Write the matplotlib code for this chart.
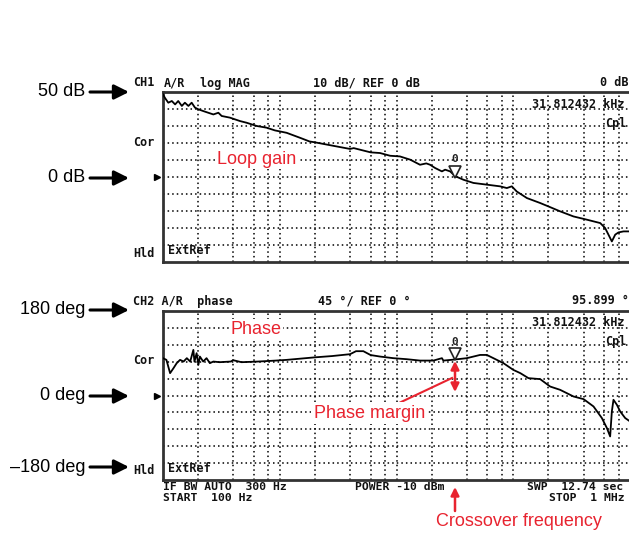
import matplotlib
matplotlib.use('Agg')
import matplotlib.pyplot as plt
import matplotlib.transforms as mtrans
import numpy as np

# loop gain trace (Hz, dB)
mag_freq = [100, 104, 111, 119, 127, 135, 145, 154, 165, 176, 188, 201, 221, 244, 270,
            298, 318, 375, 457, 521, 636, 772, 910, 1145, 1500, 1800, 2000, 2800, 4000,
            4300, 6000, 7230, 8810, 10700, 13100, 15900, 18000, 19400, 21400, 24500,
            26100, 28800, 31800, 37400, 45600, 59400, 77200, 88100, 97200, 107000,
            131000, 170000, 200000, 252000, 328000, 427000, 556000, 612000, 676000,
            699000, 747000, 797000, 880000, 1000000]
mag_db = [48.6, 46.5, 43.7, 44.7, 42.7, 44.7, 41.8, 43.7, 41.8, 43.7, 40.8, 39.8, 38.8,
          37.8, 36.8, 37.8, 35.9, 34.9, 32.9, 31.9, 30.0, 29.0, 27.4, 26.0, 23.0, 20.9,
          20.4, 18.5, 16.5, 17.0, 14.5, 14.1, 12.5, 12.1, 10.2, 7.2, 8.0, 7.2, 5.3, 3.3,
          4.3, 3.3, 0.5, -1.6, -3.5, -4.5, -5.5, -6.5, -5.5, -8.5, -12.4, -15.3, -17.3,
          -20.2, -23.2, -25.1, -27.1, -30.0, -35.9, -37.9, -33.9, -32.6, -32.0, -32.0]

# phase trace (Hz, deg)
ph_freq = [100, 107, 115, 123, 131, 140, 150, 160, 171, 182, 186, 194, 201, 207, 221,
           236, 252, 270, 305, 380, 399, 470, 650, 925, 1150, 2000, 2800, 4000, 4500,
           5200, 6000, 7230, 9400, 12200, 15900, 20700, 24500, 25200, 31800, 40000,
           52000, 59400, 67600, 82400, 100000, 115000, 135000, 170000, 207000, 252000,
           328000, 400000, 487000, 574000, 634000, 676000, 699000, 722000, 772000,
           824000, 909000, 1000000]
ph_deg = [99.4, 94.9, 59.5, 72.8, 86.1, 94.9, 90.4, 99.4, 90.4, 121.5, 90.0, 112.7, 81.6,
          103.7, 90.4, 99.4, 86.1, 90.4, 88.7, 90.4, 94.0, 88.7, 90.4, 93.0, 94.9, 101.6,
          105.0, 110.0, 118.0, 118.0, 107.7, 103.7, 99.4, 96.7, 93.0, 93.0, 99.4, 93.0,
          95.9, 99.4, 108.0, 108.0, 99.4, 86.1, 68.3, 59.5, 46.2, 43.6, 23.9, 15.1, -2.6,
          -9.6, -29.2, -60.0, -86.7, -109.0, -42.5, -11.4, -24.7, -42.5, -60.0, -69.0]

marker_f = 31812.432
marker_mag = 0.0
marker_ph = 95.899

W, H = 629, 533
RED = '#e8232f'
MONO = dict(family='DejaVu Sans Mono', weight='bold', size=8.5, color='#111111')
LABEL = ['Liberation Sans', 'DejaVu Sans']
LSIZE = 13

fig = plt.figure(figsize=(W / 100, H / 100), dpi=100)


def box(left, top, right, bottom):
    return [left / W, 1 - bottom / H, (right - left) / W, (bottom - top) / H]


def ftext(x, y, s, **kw):
    # x, y in image pixels (y from top)
    fig.text(x / W, 1 - y / H, s, **kw)


def setup(ax, lo, hi, step):
    ax.set_xscale('log')
    ax.set_xlim(100, 1e6)
    ax.set_ylim(lo, hi)
    ax.set_xticks([])
    ax.set_yticks([])
    ax.minorticks_off()
    for v in np.arange(lo + step, hi, step):
        ax.axhline(v, color='black', lw=1.1, ls=(0, (1, 2)), zorder=1)
    for dec in [100, 1000, 10000, 100000]:
        for m in [1, 2, 4, 6, 8]:
            if dec * m > 100:
                ax.axvline(dec * m, color='black', lw=1.1, ls=(0, (1, 2)), zorder=1)
    for sp in ax.spines.values():
        sp.set_linewidth(2.0)
        sp.set_color('#333333')


ax1 = fig.add_axes(box(163, 92, 630, 262))
ax2 = fig.add_axes(box(163, 311, 630, 480))
setup(ax1, -50, 50, 10)
setup(ax2, -225, 225, 45)

ax1.plot(mag_freq, mag_db, color='black', lw=1.3, zorder=3)
ax2.plot(ph_freq, ph_deg, color='black', lw=1.3, zorder=3)

# markers
for ax, val in [(ax1, marker_mag), (ax2, marker_ph)]:
    tri = mtrans.offset_copy(ax.transData, fig=fig, y=5, units='dots')
    ax.plot([marker_f], [val], marker='v', ms=9, mfc='white', mec='#222222', mew=1.2,
            transform=tri, zorder=4)
    ax.annotate('0', xy=(marker_f, val), xytext=(0, 9), textcoords='offset points',
                ha='center', va='bottom', family='DejaVu Sans Mono', weight='bold',
                fontsize=8, color='#222222', zorder=4)
    ax.plot([-0.012], [0], marker='>', ms=5, color='black',
            transform=ax.get_yaxis_transform(), clip_on=False)
    ax.text(0.01, 0.03, 'ExtRef', transform=ax.transAxes, ha='left', va='bottom', **MONO)

# instrument annotations
ftext(133, 83, 'CH1', va='center', **MONO)
ftext(164, 83, 'A/R', va='center', **MONO)
ftext(200, 83, 'log MAG', va='center', **MONO)
ftext(313, 83, '10 dB/ REF 0 dB', va='center', **MONO)
ftext(600, 83, '0 dB', va='center', **MONO)
ftext(532, 105, '31.812432 kHz', va='center', **MONO)
ftext(605, 123, 'Cpl', va='center', **MONO)
ftext(133, 143, 'Cor', va='center', **MONO)
ftext(133, 253, 'Hld', va='center', **MONO)

ftext(133, 301, 'CH2 A/R  phase', va='center', **MONO)
ftext(318, 301, '45 \u00b0/ REF 0 \u00b0', va='center', **MONO)
ftext(572, 301, '95.899 \u00b0', va='center', **MONO)
ftext(532, 322, '31.812432 kHz', va='center', **MONO)
ftext(605, 341, 'Cpl', va='center', **MONO)
ftext(133, 360, 'Cor', va='center', **MONO)
ftext(133, 471, 'Hld', va='center', **MONO)

FOOT = dict(MONO, size=8.2)
ftext(163, 487, 'IF BW AUTO  300 Hz', va='center', **FOOT)
ftext(163, 498, 'START  100 Hz', va='center', **FOOT)
ftext(355, 487, 'POWER -10 dBm', va='center', **FOOT)
ftext(527, 487, 'SWP  12.74 sec', va='center', **FOOT)
ftext(549, 498, 'STOP  1 MHz', va='center', **FOOT)

# left-hand callouts
arrow = dict(arrowstyle='-|>', color='black', lw=2.2, mutation_scale=22, shrinkA=0, shrinkB=0)
for y, s in [(92, '50 dB'), (178, '0 dB'), (310, '180 deg'), (396, '0 deg'), (467, '\u2013180 deg')]:
    fig.text(85 / W, 1 - y / H, s, ha='right', va='center', family=LABEL, fontsize=LSIZE)
    fig.patches.append(matplotlib.patches.FancyArrowPatch(
        (90 / W, 1 - y / H), (129 / W, 1 - y / H), transform=fig.transFigure, **arrow))

# red labels
ftext(217, 159, 'Loop gain', ha='left', va='center', family=LABEL, fontsize=LSIZE, color=RED,
      bbox=dict(facecolor='white', edgecolor='none', pad=1))
ftext(231, 329, 'Phase', ha='left', va='center', family=LABEL, fontsize=LSIZE, color=RED,
      bbox=dict(facecolor='white', edgecolor='none', pad=1))
ftext(314, 413, 'Phase margin', ha='left', va='center', family=LABEL, fontsize=LSIZE, color=RED,
      bbox=dict(facecolor='white', edgecolor='none', pad=2), zorder=5)
ftext(436, 522, 'Crossover frequency', ha='left', va='center', family=LABEL, fontsize=LSIZE,
      color=RED)

red_dbl = dict(arrowstyle='<|-|>', color=RED, lw=1.8, mutation_scale=12, shrinkA=0, shrinkB=0)
fig.patches.append(matplotlib.patches.FancyArrowPatch(
    (455 / W, 1 - 361 / H), (455 / W, 1 - 392 / H), transform=fig.transFigure, **red_dbl))
fig.lines.append(matplotlib.lines.Line2D([399 / W, 452 / W], [1 - 403 / H, 1 - 378 / H],
                                         transform=fig.transFigure, color=RED, lw=1.5))
red_up = dict(arrowstyle='-|>', color=RED, lw=1.8, mutation_scale=12, shrinkA=0, shrinkB=0)
fig.patches.append(matplotlib.patches.FancyArrowPatch(
    (455 / W, 1 - 511 / H), (455 / W, 1 - 487 / H), transform=fig.transFigure, **red_up))

fig.savefig('out.png', dpi=100)
